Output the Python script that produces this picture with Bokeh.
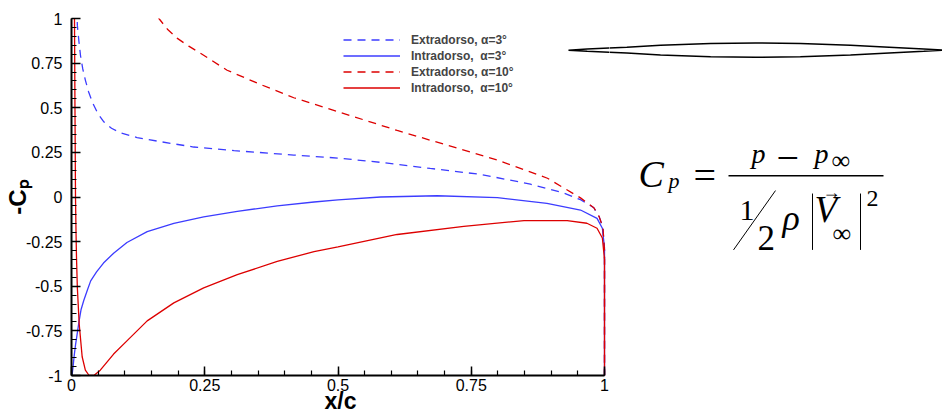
from bokeh.plotting import figure
from bokeh.layouts import row
from bokeh.models import Range1d, FixedTicker, Legend, LegendItem, ColumnDataSource
from bokeh.core.properties import value
from bokeh.embed import file_html
from bokeh.resources import INLINE

# ---------------- data ----------------
# Extradorso (upper surface), alpha = 3 deg : -Cp vs x/c
x_ext3 = [0.004, 0.008, 0.011, 0.014, 0.017, 0.021, 0.026, 0.032, 0.040, 0.050,
          0.061, 0.075, 0.092, 0.123, 0.167, 0.229, 0.305, 0.417, 0.500, 0.580,
          0.673, 0.767, 0.861, 0.924, 0.955, 0.980, 0.990, 0.997, 1.000, 1.000]
cp_ext3 = [2.00, 1.25, 0.96, 0.87, 0.79, 0.72, 0.655, 0.59, 0.525, 0.465,
           0.42, 0.385, 0.36, 0.333, 0.31, 0.28, 0.26, 0.235, 0.218, 0.194,
           0.16, 0.127, 0.072, 0.022, -0.015, -0.06, -0.11, -0.17, -0.30, -1.00]

# Intradorso (lower surface), alpha = 3 deg
x_int3 = [0.001, 0.003, 0.005, 0.0075, 0.011, 0.014, 0.018, 0.023, 0.030, 0.036,
          0.047, 0.060, 0.079, 0.104, 0.142, 0.192, 0.248, 0.311, 0.386, 0.455,
          0.500, 0.580, 0.686, 0.799, 0.892, 0.955, 0.986, 0.996, 1.000, 1.000]
cp_int3 = [-1.00, -0.95, -0.89, -0.83, -0.76, -0.70, -0.63, -0.58, -0.52, -0.47,
           -0.42, -0.37, -0.315, -0.255, -0.194, -0.148, -0.111, -0.08, -0.05, -0.028,
           -0.016, 0.0, 0.007, -0.004, -0.036, -0.073, -0.12, -0.175, -0.285, -1.00]

# Extradorso (upper surface), alpha = 10 deg
x_ext10 = [0.100, 0.130, 0.164, 0.180, 0.198, 0.220, 0.242, 0.292, 0.355, 0.417, 0.500, 0.611,
           0.705, 0.799, 0.893, 0.955, 0.980, 0.990, 0.997, 1.000, 1.000]
cp_ext10 = [1.35, 1.16, 1.00, 0.94, 0.89, 0.845, 0.805, 0.71, 0.63, 0.556, 0.478, 0.373,
            0.29, 0.207, 0.105, -0.005, -0.06, -0.11, -0.17, -0.30, -1.00]

# Intradorso (lower surface), alpha = 10 deg
x_int10 = [0.004, 0.0056, 0.0065, 0.0075, 0.0085, 0.0094, 0.011, 0.0144, 0.020, 0.026,
           0.033, 0.042, 0.054, 0.079, 0.104, 0.142, 0.192, 0.248, 0.311, 0.386,
           0.455, 0.500, 0.611, 0.736, 0.849, 0.930, 0.967, 0.986, 0.996, 1.000, 1.000]
cp_int10 = [2.00, 1.00, 0.50, 0.00, -0.20, -0.34, -0.51, -0.71, -0.895, -0.97,
            -1.00, -1.00, -0.97, -0.88, -0.806, -0.694, -0.593, -0.509, -0.435, -0.361,
            -0.306, -0.28, -0.21, -0.165, -0.132, -0.132, -0.147, -0.175, -0.23, -0.35, -1.00]

# airfoil sketch: chord stations and half thickness (fraction of chord)
foil_x = [0.0, 0.05, 0.156, 0.246, 0.38, 0.5, 0.62, 0.754, 0.844, 0.95, 1.0]
foil_t = [0.0, 0.0030, 0.0080, 0.0130, 0.0180, 0.0195, 0.0180, 0.0130, 0.0085, 0.0030, 0.0]

x_ticks = [0, 0.25, 0.5, 0.75, 1]
x_tick_labels = ["0", "0.25", "0.5", "0.75", "1"]
y_ticks = [-1, -0.75, -0.5, -0.25, 0, 0.25, 0.5, 0.75, 1]
y_tick_labels = ["-1", "-0.75", "-0.5", "-0.25", "0", "0.25", "0.5", "0.75", "1"]

legend_labels = ["Extradorso, \u03b1=3\u00b0", "Intradorso,\u00a0 \u03b1=3\u00b0",
                 "Extradorso, \u03b1=10\u00b0", "Intradorso,\u00a0 \u03b1=10\u00b0"]

# ---------------- layout ----------------
W, H = 942, 416
W1 = 609                    # width of the plot figure; the rest holds the sketch
PX0, PXS = 71.0, 533.0      # canvas px of x=0, px per unit
PY0, PYS = 198.5, 180.5     # canvas px of y=0, px per unit
TOP, FRAME_BOTTOM = 18, 379
BLUE = "#3c3cff"
RED = "#dd0000"
SANS = "Liberation Sans"
SERIF = "Liberation Serif"
BASELINE_FIX = 0.33         # measured offset of the text baseline, in em


def dx(px):
    return (px - PX0) / PXS


def dy(py):
    return (PY0 - py) / PYS


p = figure(width=W1, height=H, output_backend="svg", toolbar_location=None,
           x_range=Range1d(0, dx(W1)), y_range=Range1d(-1, 1),
           min_border_left=int(PX0), min_border_right=0,
           min_border_top=TOP, min_border_bottom=H - FRAME_BOTTOM)
p2 = figure(width=W - W1, height=H, output_backend="svg", toolbar_location=None,
            x_range=Range1d(dx(W1), dx(W)), y_range=Range1d(-1, 1),
            x_axis_location=None, y_axis_location=None,
            min_border_left=0, min_border_right=0,
            min_border_top=TOP, min_border_bottom=H - FRAME_BOTTOM)
for f in (p, p2):
    f.grid.visible = False
    f.outline_line_color = None
    f.background_fill_color = "white"
    f.border_fill_color = "white"

for ax, ticks, labels in ((p.xaxis, x_ticks, x_tick_labels), (p.yaxis, y_ticks, y_tick_labels)):
    ax.ticker = FixedTicker(ticks=ticks, minor_ticks=[round(-1 + i * 0.05, 2) for i in range(41)])
    ax.major_label_overrides = {(int(t) if float(t).is_integer() else t): l for t, l in zip(ticks, labels)}
    ax.axis_line_width = 2
    ax.axis_line_color = "black"
    ax.major_tick_in = 9
    ax.major_tick_out = 0
    ax.minor_tick_in = 5
    ax.minor_tick_out = 0
    ax.major_tick_line_width = 1.5
    ax.minor_tick_line_width = 1.2
    ax.major_label_text_font = SANS
    ax.major_label_text_font_size = "16px"
    ax.major_label_text_color = "black"
    ax.axis_label_text_font = SANS
    ax.axis_label_text_font_style = "bold"
    ax.axis_label_text_color = "black"

p.xaxis.bounds = (0, 1)
p.xaxis.major_label_standoff = 3
p.xaxis.axis_label = "x/c"
p.xaxis.axis_label_text_font_size = "23px"
p.xaxis.axis_label_text_line_height = 1.0
p.xaxis.axis_label_standoff = -6
p.yaxis.major_label_standoff = 9
p.yaxis.axis_label = "-C\u209a"
p.yaxis.axis_label_text_font_size = "24px"
p.yaxis.axis_label_standoff = -8

lw = 1.3
r1 = p.line(x_ext3, cp_ext3, line_color=BLUE, line_width=lw, line_dash="8 6")
r2 = p.line(x_int3, cp_int3, line_color=BLUE, line_width=lw)
r3 = p.line(x_ext10, cp_ext10, line_color=RED, line_width=lw, line_dash="8 6")
r4 = p.line(x_int10, cp_int10, line_color=RED, line_width=lw)

legend = Legend(items=[LegendItem(label=lab, renderers=[r]) for lab, r in zip(legend_labels, [r1, r2, r3, r4])],
                location=(272, 280), orientation="vertical", padding=0, margin=0, spacing=1,
                glyph_width=57, glyph_height=15, label_height=15, label_standoff=11,
                label_text_font=SANS, label_text_font_size="12px", label_text_font_style="bold",
                background_fill_alpha=0, border_line_color=None)
p.add_layout(legend)

# ---------------- airfoil sketch (spans both figures) ----------------
LE_PX, TE_PX, FOIL_PY = 568.0, 942.0, 50.0
chord_px = TE_PX - LE_PX
fx = [dx(LE_PX + s * chord_px) for s in foil_x] + [dx(LE_PX + s * chord_px) for s in foil_x[::-1]]
fy = [dy(FOIL_PY - t * chord_px) for t in foil_t] + [dy(FOIL_PY + t * chord_px) for t in foil_t[::-1]]
for f in (p, p2):
    f.patch(fx, fy, fill_color="white", line_color="black", line_width=1.5)

# ---------------- formula ----------------
# (text, left px, baseline px, font size px, style)
items = [
    ("C", 638, 188, 38, "italic"),
    ("p", 668, 189, 22, "italic"),
    ("=", 693, 190, 40, "normal"),
    ("p", 751, 164, 28, "italic"),
    ("\u2212", 776, 172, 40, "normal"),
    ("p", 814, 164, 28, "italic"),
    ("\u221e", 831, 170, 26, "normal"),
    ("1", 739, 222, 30, "normal"),
    ("2", 757, 252, 35, "normal"),
    ("\u03c1", 782, 232, 36, "italic"),
    ("V", 814, 223, 37, "italic"),
    ("\u2192", 822, 199, 18, "normal"),
    ("\u221e", 832, 244, 26, "normal"),
    ("2", 866, 208, 24, "normal"),
]
fsrc = ColumnDataSource(dict(
    x=[dx(it[1]) for it in items],
    y=[dy(it[2] - BASELINE_FIX * it[3]) for it in items],
    text=[it[0] for it in items], size=["%dpx" % it[3] for it in items],
    style=[it[4] for it in items]))
p2.text(x="x", y="y", text="text", source=fsrc, text_font=value(SERIF),
        text_font_size="size", text_font_style="style", text_color="black",
        text_align="left", text_baseline="alphabetic")

segs = [((728, 177), (883, 177), 1.4),   # fraction bar
        ((733, 252), (775, 192), 1.0),   # slash of 1/2
        ((812, 195), (812, 252), 1.0),   # |
        ((860, 195), (860, 252), 1.0)]   # |
for (a, b, w) in segs:
    p2.segment(x0=[dx(a[0])], y0=[dy(a[1])], x1=[dx(b[0])], y1=[dy(b[1])], line_color="black", line_width=w)

open("out.html", "w").write(file_html(row(p, p2), INLINE))
